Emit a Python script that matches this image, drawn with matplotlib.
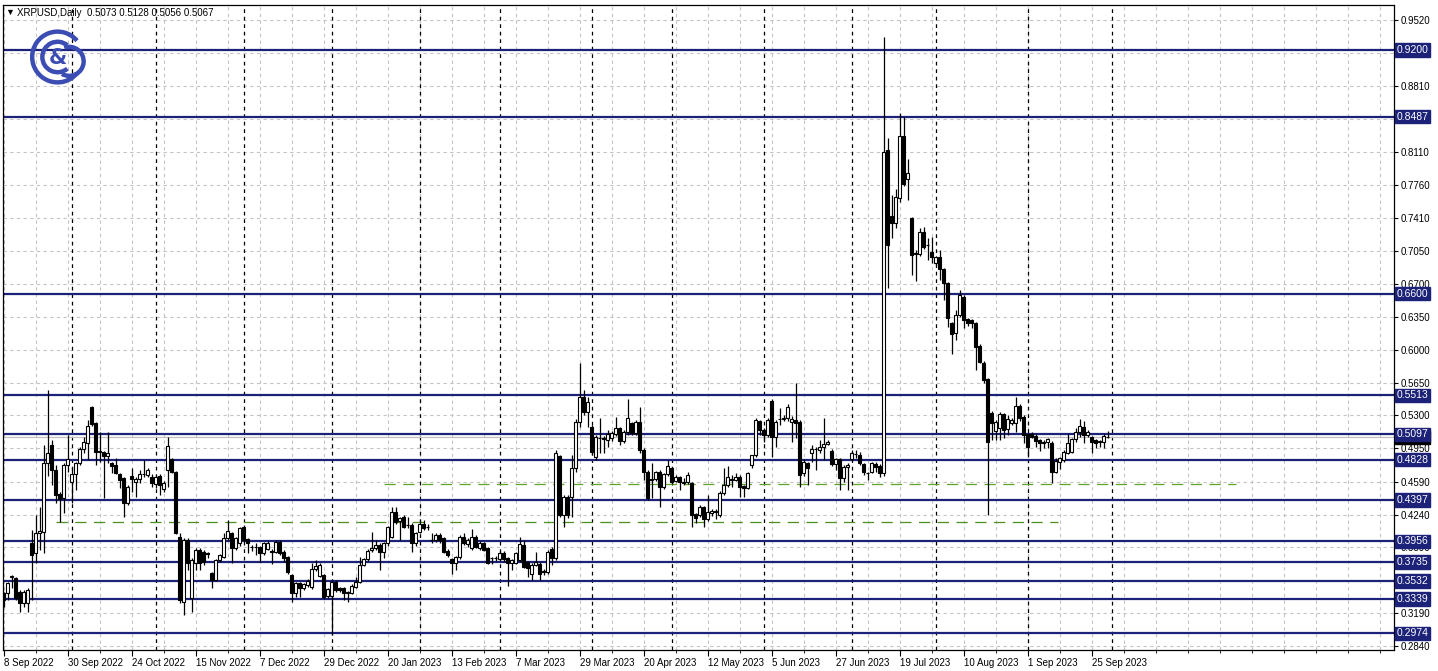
import numpy as np
import pandas as pd
import matplotlib
matplotlib.use('Agg')
import matplotlib.pyplot as plt
from matplotlib.patches import Arc

plt.rcParams['font.family'] = ['Liberation Sans', 'DejaVu Sans']

# Data (daily bars Mon-Fri from 8 Sep 2022)
start = '2022-09-08'
header = 'XRPUSD,Daily  0.5073 0.5128 0.5056 0.5067'

opens = [0.3401, 0.3401, 0.3570, 0.3560, 0.3420, 0.3294, 0.3294, 0.3934, 0.3828, 0.4041,
         0.4059, 0.4788, 0.4984, 0.4717, 0.4461, 0.4415, 0.4770, 0.4592, 0.4671, 0.4788,
         0.4937, 0.5005, 0.5393, 0.5215, 0.4920, 0.4906, 0.4870, 0.4788, 0.4770, 0.4675,
         0.4628, 0.4361, 0.4653, 0.4592, 0.4621, 0.4671, 0.4660, 0.4646, 0.4568, 0.4653,
         0.4511, 0.4717, 0.4831, 0.4699, 0.4006, 0.3312, 0.3970, 0.3347, 0.3721, 0.3863,
         0.3845, 0.3830, 0.3614, 0.3543, 0.3757, 0.3792, 0.3988, 0.4041, 0.3881, 0.3934,
         0.4112, 0.3977, 0.3899, 0.3899, 0.3899, 0.3828, 0.3875, 0.3850, 0.3845, 0.3952,
         0.3845, 0.3784, 0.3600, 0.3401, 0.3508, 0.3454, 0.3490, 0.3465, 0.3657, 0.3586,
         0.3596, 0.3372, 0.3372, 0.3525, 0.3455, 0.3455, 0.3410, 0.3408, 0.3472, 0.3525,
         0.3703, 0.3764, 0.3859, 0.3881, 0.3917, 0.3845, 0.3934, 0.4006, 0.4273, 0.4177,
         0.4219, 0.4130, 0.4130, 0.3934, 0.4059, 0.4141, 0.4110, 0.3970, 0.3970, 0.4024,
         0.3988, 0.3856, 0.3764, 0.3721, 0.3785, 0.3999, 0.3927, 0.3881, 0.3999, 0.3881,
         0.3934, 0.3881, 0.3777, 0.3780, 0.3764, 0.3835, 0.3774, 0.3721, 0.3721, 0.3757,
         0.3917, 0.3739, 0.3607, 0.3703, 0.3714, 0.3635, 0.3632, 0.3870, 0.3774, 0.4866,
         0.4237, 0.4433, 0.4433, 0.4735, 0.5233, 0.5500, 0.5340, 0.5180, 0.4860, 0.5060,
         0.5055, 0.5037, 0.5055, 0.5101, 0.5162, 0.5030, 0.5126, 0.5215, 0.5109, 0.5233,
         0.4931, 0.4700, 0.4618, 0.4618, 0.4699, 0.4532, 0.4671, 0.4735, 0.4604, 0.4639,
         0.4593, 0.4593, 0.4575, 0.4248, 0.4237, 0.4319, 0.4191, 0.4258, 0.4276, 0.4237,
         0.4468, 0.4557, 0.4617, 0.4611, 0.4646, 0.4547, 0.4522, 0.4771, 0.4878, 0.5240,
         0.5144, 0.5091, 0.5457, 0.5066, 0.5260, 0.5258, 0.5269, 0.5233, 0.5251, 0.5233,
         0.4682, 0.4788, 0.4895, 0.4938, 0.4927, 0.4966, 0.4995, 0.4924, 0.4781, 0.4831,
         0.4628, 0.4746, 0.4831, 0.4888, 0.4877, 0.4781, 0.4690, 0.4700, 0.4781, 0.4760,
         0.4689, 0.8132, 0.7428, 0.7357, 0.7616, 0.8282, 0.7823, 0.7403, 0.7030, 0.7023,
         0.7261, 0.7118, 0.7047, 0.6922, 0.6986, 0.6858, 0.6709, 0.6282, 0.6175, 0.6371,
         0.6567, 0.6325, 0.6318, 0.6289, 0.6040, 0.5862, 0.5684, 0.5329, 0.5133, 0.5162,
         0.5311, 0.5151, 0.5215, 0.5215, 0.5400, 0.5279, 0.5101, 0.5101, 0.5080, 0.5037,
         0.5020, 0.5020, 0.5009, 0.4700, 0.4806, 0.4824, 0.4902, 0.4913, 0.5044, 0.5126,
         0.5173, 0.5091, 0.5066, 0.5037, 0.5030, 0.5020, 0.5073]
highs = [0.3420, 0.3525, 0.3597, 0.3580, 0.3440, 0.3440, 0.3460, 0.4077, 0.4237, 0.4326,
         0.4984, 0.5571, 0.5037, 0.4770, 0.4480, 0.4790, 0.5090, 0.4752, 0.4800, 0.4960,
         0.5073, 0.5250, 0.5400, 0.5230, 0.5126, 0.4920, 0.5126, 0.4800, 0.4842, 0.4690,
         0.4640, 0.4560, 0.4735, 0.4640, 0.4720, 0.4824, 0.4735, 0.4670, 0.4660, 0.4670,
         0.4600, 0.5073, 0.4850, 0.4710, 0.4040, 0.3990, 0.3990, 0.3780, 0.3880, 0.3880,
         0.3860, 0.3845, 0.3630, 0.3770, 0.3820, 0.4041, 0.4183, 0.4060, 0.4000, 0.4110,
         0.4130, 0.3990, 0.3920, 0.3934, 0.3910, 0.3950, 0.3955, 0.3870, 0.3970, 0.3970,
         0.3860, 0.3800, 0.3610, 0.3525, 0.3525, 0.3515, 0.3550, 0.3721, 0.3760, 0.3728,
         0.3610, 0.3460, 0.3540, 0.3545, 0.3472, 0.3472, 0.3425, 0.3500, 0.3579, 0.3792,
         0.3780, 0.3870, 0.4059, 0.3970, 0.3940, 0.3950, 0.4120, 0.4326, 0.4326, 0.4220,
         0.4237, 0.4219, 0.4150, 0.4060, 0.4183, 0.4183, 0.4141, 0.4041, 0.4040, 0.4040,
         0.4006, 0.3870, 0.3780, 0.3800, 0.4024, 0.4041, 0.3990, 0.4084, 0.4020, 0.3960,
         0.3950, 0.3900, 0.3790, 0.3795, 0.3850, 0.3850, 0.3790, 0.3770, 0.3840, 0.4006,
         0.3970, 0.3750, 0.3720, 0.3845, 0.3730, 0.3657, 0.3860, 0.3890, 0.4930, 0.4880,
         0.4450, 0.4450, 0.4877, 0.5260, 0.5855, 0.5571, 0.5500, 0.5200, 0.5090, 0.5269,
         0.5080, 0.5144, 0.5130, 0.5286, 0.5180, 0.5140, 0.5471, 0.5230, 0.5250, 0.5393,
         0.4950, 0.4720, 0.4788, 0.4710, 0.4720, 0.4690, 0.4824, 0.4750, 0.4660, 0.4650,
         0.4628, 0.4700, 0.4590, 0.4260, 0.4340, 0.4330, 0.4450, 0.4300, 0.4300, 0.4490,
         0.4735, 0.4760, 0.4664, 0.4680, 0.4660, 0.4560, 0.4700, 0.4880, 0.5270, 0.5251,
         0.5160, 0.5270, 0.5470, 0.5250, 0.5375, 0.5300, 0.5420, 0.5290, 0.5642, 0.5250,
         0.4830, 0.4800, 0.4984, 0.4966, 0.5037, 0.5269, 0.5037, 0.4940, 0.4850, 0.4840,
         0.4770, 0.4790, 0.4931, 0.4931, 0.4913, 0.4790, 0.4700, 0.4800, 0.4800, 0.4780,
         0.9340, 0.8257, 0.7652, 0.7712, 0.8531, 0.8488, 0.8033, 0.7420, 0.7060, 0.7296,
         0.7314, 0.7190, 0.7207, 0.7000, 0.7065, 0.6870, 0.6720, 0.6300, 0.6424, 0.6638,
         0.6580, 0.6340, 0.6330, 0.6300, 0.6060, 0.5880, 0.5700, 0.5350, 0.5250, 0.5339,
         0.5320, 0.5304, 0.5270, 0.5500, 0.5420, 0.5300, 0.5110, 0.5120, 0.5100, 0.5050,
         0.5040, 0.5060, 0.5030, 0.4850, 0.4860, 0.4930, 0.5101, 0.5060, 0.5162, 0.5258,
         0.5244, 0.5140, 0.5080, 0.5050, 0.5040, 0.5100, 0.5128]
lows = [0.3259, 0.3330, 0.3455, 0.3330, 0.3205, 0.3250, 0.3205, 0.3330, 0.3721, 0.3863,
        0.3828, 0.4650, 0.4557, 0.4361, 0.4166, 0.4255, 0.4700, 0.4361, 0.4504, 0.4770,
        0.4900, 0.4824, 0.5190, 0.4770, 0.4806, 0.4415, 0.4788, 0.4681, 0.4670, 0.4521,
        0.4219, 0.4340, 0.4486, 0.4432, 0.4580, 0.4640, 0.4640, 0.4539, 0.4530, 0.4450,
        0.4480, 0.4539, 0.4680, 0.4030, 0.3300, 0.3170, 0.3650, 0.3205, 0.3650, 0.3650,
        0.3700, 0.3780, 0.3454, 0.3530, 0.3740, 0.3780, 0.3970, 0.3721, 0.3860, 0.3910,
        0.3950, 0.3828, 0.3850, 0.3810, 0.3739, 0.3810, 0.3860, 0.3714, 0.3830, 0.3810,
        0.3739, 0.3610, 0.3312, 0.3365, 0.3365, 0.3440, 0.3470, 0.3450, 0.3640, 0.3570,
        0.3340, 0.3350, 0.2960, 0.3420, 0.3420, 0.3330, 0.3312, 0.3390, 0.3460, 0.3510,
        0.3690, 0.3750, 0.3840, 0.3860, 0.3650, 0.3774, 0.3910, 0.3990, 0.4140, 0.3970,
        0.4095, 0.4100, 0.3845, 0.3910, 0.4040, 0.4080, 0.4077, 0.3934, 0.3950, 0.3934,
        0.3830, 0.3790, 0.3607, 0.3650, 0.3770, 0.3920, 0.3900, 0.3860, 0.3880, 0.3860,
        0.3850, 0.3710, 0.3714, 0.3750, 0.3750, 0.3740, 0.3479, 0.3650, 0.3710, 0.3740,
        0.3670, 0.3579, 0.3543, 0.3690, 0.3543, 0.3597, 0.3610, 0.3703, 0.3760, 0.4220,
        0.4112, 0.4200, 0.4220, 0.4700, 0.5180, 0.5300, 0.5180, 0.4880, 0.4824, 0.4895,
        0.4895, 0.4966, 0.5030, 0.5080, 0.4984, 0.5010, 0.5091, 0.5090, 0.5090, 0.4900,
        0.4611, 0.4400, 0.4415, 0.4600, 0.4326, 0.4510, 0.4650, 0.4570, 0.4590, 0.4504,
        0.4557, 0.4570, 0.4113, 0.4148, 0.4220, 0.4113, 0.4170, 0.4230, 0.4191, 0.4220,
        0.4450, 0.4540, 0.4540, 0.4600, 0.4433, 0.4430, 0.4510, 0.4740, 0.4860, 0.5090,
        0.5020, 0.5073, 0.4860, 0.4966, 0.5200, 0.5240, 0.5240, 0.5020, 0.5055, 0.4540,
        0.4650, 0.4557, 0.4806, 0.4717, 0.4900, 0.4824, 0.4980, 0.4760, 0.4717, 0.4504,
        0.4593, 0.4504, 0.4810, 0.4850, 0.4770, 0.4664, 0.4610, 0.4680, 0.4700, 0.4646,
        0.4650, 0.6656, 0.7190, 0.7296, 0.7580, 0.7750, 0.7599, 0.6798, 0.6738, 0.7000,
        0.7080, 0.6958, 0.6923, 0.6900, 0.6744, 0.6531, 0.6247, 0.5955, 0.6104, 0.6350,
        0.6229, 0.6250, 0.6229, 0.5784, 0.5855, 0.5642, 0.4237, 0.5037, 0.5037, 0.5037,
        0.5055, 0.5090, 0.5200, 0.5126, 0.5240, 0.5002, 0.4859, 0.5055, 0.4966, 0.4923,
        0.4948, 0.4948, 0.4582, 0.4680, 0.4724, 0.4800, 0.4890, 0.4895, 0.5020, 0.5073,
        0.5002, 0.5070, 0.4902, 0.4950, 0.4960, 0.4949, 0.5056]
closes = [0.3330, 0.3508, 0.3585, 0.3347, 0.3294, 0.3420, 0.3436, 0.3810, 0.4041, 0.4066,
          0.4788, 0.4895, 0.4717, 0.4450, 0.4404, 0.4770, 0.4831, 0.4671, 0.4788, 0.4937,
          0.5019, 0.5190, 0.5208, 0.4913, 0.4906, 0.4866, 0.4895, 0.4763, 0.4681, 0.4610,
          0.4368, 0.4539, 0.4621, 0.4621, 0.4671, 0.4675, 0.4717, 0.4575, 0.4646, 0.4557,
          0.4575, 0.4977, 0.4699, 0.4048, 0.3330, 0.3970, 0.3721, 0.3757, 0.3863, 0.3721,
          0.3739, 0.3825, 0.3543, 0.3757, 0.3810, 0.3988, 0.4066, 0.3881, 0.3988, 0.4095,
          0.3970, 0.3934, 0.3895, 0.3895, 0.3828, 0.3934, 0.3941, 0.3845, 0.3952, 0.3828,
          0.3774, 0.3632, 0.3401, 0.3508, 0.3454, 0.3500, 0.3536, 0.3657, 0.3693, 0.3703,
          0.3365, 0.3443, 0.3525, 0.3436, 0.3440, 0.3408, 0.3405, 0.3479, 0.3525, 0.3703,
          0.3764, 0.3852, 0.3888, 0.3917, 0.3845, 0.3934, 0.4106, 0.4273, 0.4166, 0.4202,
          0.4112, 0.4125, 0.3934, 0.4041, 0.4141, 0.4095, 0.4105, 0.3965, 0.4024, 0.3970,
          0.3845, 0.3810, 0.3721, 0.3785, 0.4006, 0.3941, 0.3970, 0.3999, 0.3899, 0.3941,
          0.3863, 0.3728, 0.3774, 0.3774, 0.3835, 0.3764, 0.3728, 0.3757, 0.3828, 0.3927,
          0.3685, 0.3668, 0.3703, 0.3739, 0.3607, 0.3630, 0.3845, 0.3774, 0.4895, 0.4237,
          0.4433, 0.4237, 0.4735, 0.5233, 0.5500, 0.5340, 0.5446, 0.4913, 0.5073, 0.5055,
          0.5044, 0.5101, 0.5115, 0.5162, 0.5030, 0.5126, 0.5269, 0.5109, 0.5233, 0.4931,
          0.4700, 0.4415, 0.4615, 0.4692, 0.4540, 0.4671, 0.4760, 0.4593, 0.4646, 0.4593,
          0.4575, 0.4664, 0.4237, 0.4201, 0.4326, 0.4191, 0.4273, 0.4283, 0.4273, 0.4468,
          0.4557, 0.4646, 0.4611, 0.4639, 0.4540, 0.4522, 0.4682, 0.4878, 0.5251, 0.5144,
          0.5091, 0.5251, 0.5073, 0.5233, 0.5258, 0.5272, 0.5393, 0.5258, 0.5215, 0.4664,
          0.4806, 0.4735, 0.4938, 0.4936, 0.4966, 0.4995, 0.5020, 0.4781, 0.4831, 0.4628,
          0.4753, 0.4771, 0.4895, 0.4885, 0.4788, 0.4700, 0.4688, 0.4788, 0.4746, 0.4682,
          0.8115, 0.7118, 0.7350, 0.7634, 0.8282, 0.7770, 0.7890, 0.7012, 0.7025, 0.7261,
          0.7101, 0.7115, 0.6994, 0.6994, 0.6858, 0.6709, 0.6335, 0.6168, 0.6371, 0.6584,
          0.6318, 0.6289, 0.6282, 0.6033, 0.5873, 0.5677, 0.5019, 0.5222, 0.5233, 0.5311,
          0.5144, 0.5258, 0.5251, 0.5400, 0.5268, 0.5090, 0.4966, 0.5073, 0.5030, 0.5009,
          0.5002, 0.5044, 0.4700, 0.4817, 0.4842, 0.4913, 0.5009, 0.5044, 0.5126, 0.5187,
          0.5091, 0.5126, 0.5020, 0.5009, 0.5020, 0.5080, 0.5067]

levels = [0.9200, 0.8487, 0.6600, 0.5513, 0.5097, 0.4828, 0.4397,
          0.3956, 0.3735, 0.3532, 0.3339, 0.2974]
price_ticks = [0.9520, 0.9170, 0.8810, 0.8460, 0.8110, 0.7760, 0.7410, 0.7050,
               0.6700, 0.6350, 0.6000, 0.5650, 0.5300, 0.4950, 0.4590, 0.4240,
               0.3890, 0.3540, 0.3190, 0.2840]
hidden_ticks = [0.9170, 0.8460, 0.3540]   # covered by level labels
bid = 0.5067
# dashed trend lines: first bar, last bar, price
trend_start = [13, 95]
trend_end = [263.5, 308]
trend_price = [0.4166, 0.4564]
trend_colors = ['#4f8f1f', '#5fa52a']

navy = '#1b2278'

n = len(closes)
o = np.array(opens); h = np.array(highs); l = np.array(lows); c = np.array(closes)
x = np.arange(n)
dates = pd.bdate_range(start, periods=n + 10)

W, H = 1438, 671
fig = plt.figure(figsize=(W / 100, H / 100), dpi=100)
fig.patch.set_facecolor('white')
# plot frame in pixels: x 3..1394, y 5..650
ax = fig.add_axes([3 / W, 1 - 650 / H, 1391 / W, 645 / H])
ax.set_xlim(-0.175, 347.6)
ax.set_ylim(0.27959, 0.96796)

# grid
for p in price_ticks:
    ax.axhline(p, color='#c4c4c4', lw=0.8, ls=(0, (3, 3)), zorder=0)
for i in range(0, 350, 8):
    ax.axvline(i, color='#c4c4c4', lw=0.8, ls=(0, (3, 3)), zorder=0)

# month separators
for i in range(1, len(dates)):
    if dates[i].month != dates[i - 1].month and i < 290:
        ax.axvline(i, color='black', lw=0.9, ls=(0, (3, 3)), zorder=1)

# levels and lines
for lv in levels:
    ax.axhline(lv, color=navy, lw=1.6, zorder=2)
ax.axhline(bid, color='#c0c0c0', lw=0.9, zorder=2)
for s, e, p, col in zip(trend_start, trend_end, trend_price, trend_colors):
    ax.plot([s, e], [p, p], color=col, lw=0.9, ls=(0, (9, 6)), zorder=2)

# candles
up = c >= o
ax.vlines(x, l, h, color='black', lw=0.9, zorder=4)
ax.bar(x[up], c[up] - o[up], bottom=o[up], width=0.62, color='white',
       edgecolor='black', lw=0.8, zorder=5)
ax.bar(x[~up], o[~up] - c[~up], bottom=c[~up], width=0.62, color='black',
       edgecolor='black', lw=0.8, zorder=5)

# axes / ticks
for sp in ax.spines.values():
    sp.set_color('black')
    sp.set_linewidth(0.9)
ax.yaxis.tick_right()
ax.set_yticks(price_ticks)
ax.set_yticklabels(['' if p in hidden_ticks else f'{p:.4f}' for p in price_ticks])
ax.tick_params(axis='y', length=3, width=0.8, pad=2, labelsize=7)
lab_idx = list(range(0, n, 16))
ax.set_xticks(lab_idx)
ax.set_xticklabels([f'{dates[i].day} {dates[i]:%b %Y}' for i in lab_idx], ha='left')
ax.set_xticks(range(0, 350, 8), minor=True)
ax.tick_params(axis='x', which='major', length=4, width=0.8, pad=2, labelsize=7)
ax.tick_params(axis='x', which='minor', length=2, width=0.6)

# price labels on the scale
def scale_label(p, fc):
    ax.text(1.002, p, f'{p:.4f}', transform=ax.get_yaxis_transform(), ha='left',
            va='center', color='white', fontsize=7.5, clip_on=False, zorder=10,
            bbox=dict(boxstyle='square,pad=0.16', fc=fc, ec=fc))

scale_label(bid, 'black')
for lv in levels:
    scale_label(lv, navy)

# header
fig.text(5 / W, 1 - 15 / H, '\u25bc', fontsize=6.5, color='black')
fig.text(17 / W, 1 - 16 / H, header, fontsize=7, color='black')

# logo
lax = fig.add_axes([30 / W, 1 - 86 / H, 58 / W, 58 / H])
lax.set_xlim(-1, 1); lax.set_ylim(-1, 1); lax.axis('off')
blue = '#3b4db3'
lax.add_patch(Arc((-0.05, 0.0), 1.75, 1.75, theta1=40, theta2=320, color=blue, lw=3.2))
lax.add_patch(Arc((-0.05, 0.0), 1.05, 1.05, theta1=50, theta2=310, color=blue, lw=3.2))
lax.add_patch(Arc((0.35, -0.15), 1.0, 1.0, theta1=-120, theta2=110, color=blue, lw=3.2))
lax.text(-0.05, -0.05, '&', fontsize=15, fontweight='bold', color=blue, ha='center', va='center',
         family='DejaVu Sans')

fig.savefig('out.png', dpi=100, facecolor='white')
